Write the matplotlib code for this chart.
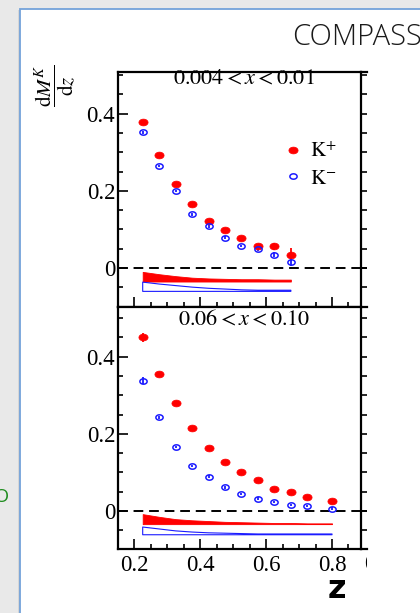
import numpy as np
import matplotlib
matplotlib.use("Agg")
import matplotlib.pyplot as plt
from matplotlib.path import Path
from matplotlib.patches import Rectangle
from matplotlib.lines import Line2D
from matplotlib.ticker import MultipleLocator, FuncFormatter
from matplotlib.transforms import Bbox

plt.rcParams['font.family'] = ['Liberation Serif', 'DejaVu Serif']
plt.rcParams['mathtext.fontset'] = 'stix'

# ---- multiplicities, 0.004 < x < 0.01 ----
z_lo = [0.225, 0.275, 0.325, 0.375, 0.425, 0.475, 0.525, 0.575, 0.625, 0.675]
kp_lo = [0.379, 0.293, 0.217, 0.165, 0.123, 0.098, 0.077, 0.056, 0.056, 0.035]
kp_lo_err = [0.004, 0.003, 0.003, 0.003, 0.003, 0.003, 0.003, 0.004, 0.009, 0.017]
km_lo = [0.352, 0.264, 0.200, 0.139, 0.108, 0.079, 0.057, 0.049, 0.035, 0.016]
km_lo_err = [0.004, 0.003, 0.003, 0.003, 0.003, 0.003, 0.003, 0.004, 0.007, 0.011]
sys_kp_lo = [0.025, 0.019, 0.014, 0.010, 0.008, 0.007, 0.006, 0.006, 0.005, 0.005]
sys_km_lo = [0.024, 0.019, 0.015, 0.011, 0.008, 0.006, 0.004, 0.003, 0.003, 0.003]

# ---- multiplicities, 0.06 < x < 0.10 ----
z_hi = [0.225, 0.275, 0.325, 0.375, 0.425, 0.475, 0.525, 0.575, 0.625, 0.675, 0.725, 0.80]
kp_hi = [0.450, 0.355, 0.281, 0.216, 0.163, 0.128, 0.100, 0.080, 0.058, 0.048, 0.035, 0.025]
kp_hi_err = [0.011, 0.004, 0.003, 0.003, 0.003, 0.003, 0.003, 0.003, 0.003, 0.003, 0.003, 0.003]
km_hi = [0.338, 0.243, 0.166, 0.116, 0.089, 0.061, 0.044, 0.032, 0.023, 0.016, 0.012, 0.006]
km_hi_err = [0.010, 0.004, 0.003, 0.003, 0.003, 0.003, 0.003, 0.003, 0.003, 0.003, 0.003, 0.003]
sys_kp_hi = [0.026, 0.019, 0.013, 0.010, 0.008, 0.006, 0.005, 0.004, 0.003, 0.003, 0.002, 0.002]
sys_km_hi = [0.020, 0.015, 0.010, 0.007, 0.005, 0.004, 0.003, 0.002, 0.002, 0.002, 0.002, 0.002]

bin_labels = [r'$0.004<x<0.01$', r'$0.06<x<0.10$']
series_labels = [r'$\mathrm{K}^{+}$', r'$\mathrm{K}^{-}$']
x_ticks = [0.2, 0.4, 0.6, 0.8]

RED = '#ff0000'
BLUE = '#1a1aff'

W, H = 420, 613
fig = plt.figure(figsize=(W / 100, H / 100), dpi=100)
fig.patch.set_facecolor('#e9e9e9')


def fx(px):
    return px / W


def fy(py):
    return 1 - py / H


# slide card behind the plot
fig.patches.append(Rectangle((fx(18), 0), 0.004, fy(10), transform=fig.transFigure,
                             facecolor='#d6d6d6', edgecolor='none', zorder=-11))
fig.patches.append(Rectangle((fx(20), -0.01), 1.0, fy(9) + 0.01, transform=fig.transFigure,
                             facecolor='white', edgecolor='#74a3da', lw=1.3, zorder=-10))

# horizontally stretched circle marker
t = np.linspace(0, 2 * np.pi, 60)
ellipse = Path(np.column_stack([1.35 * np.cos(t), np.sin(t)]), closed=True)

ax_lo = fig.add_axes([fx(118), fy(307), fx(361) - fx(118), fy(72) - fy(307)])
ax_hi = fig.add_axes([fx(118), fy(549), fx(361) - fx(118), fy(307) - fy(549)])

panels = [
    (ax_lo, z_lo, kp_lo, kp_lo_err, km_lo, km_lo_err, sys_kp_lo, sys_km_lo, (-0.101, 0.508), -0.035, -0.0605),
    (ax_hi, z_hi, kp_hi, kp_hi_err, km_hi, km_hi_err, sys_kp_hi, sys_km_hi, (-0.099, 0.529), -0.0345, -0.062),
]

for i, (ax, z, kp, kpe, km, kme, skp, skm, ylim, base_p, base_m) in enumerate(panels):
    z = np.asarray(z)
    ax.set_xlim(0.15, 0.888)
    ax.set_ylim(*ylim)

    # systematic bands
    ax.fill_between(z, base_p, base_p + np.asarray(skp), facecolor=RED, edgecolor=RED, lw=0.6, zorder=2)
    ax.fill_between(z, base_m, base_m + np.asarray(skm), facecolor='none', edgecolor=BLUE, lw=0.8, zorder=2)

    ax.axhline(0, color='black', lw=1.4, ls=(0, (5, 3)), zorder=1)
    ax.plot([1.0, 1.025], [0, 0], color='black', lw=1.4, ls=(0, (5, 3)),
            transform=ax.get_yaxis_transform(), clip_on=False)

    ax.errorbar(z, kp, yerr=kpe, fmt='none', ecolor=RED, elinewidth=1.3, capsize=0, zorder=3)
    ax.errorbar(z, km, yerr=kme, fmt='none', ecolor=BLUE, elinewidth=1.3, capsize=0, zorder=3)
    ax.plot(z, kp, ls='none', marker=ellipse, ms=6.6, mfc=RED, mec=RED, mew=0.5, zorder=4)
    ax.plot(z, km, ls='none', marker=ellipse, ms=5.2, mfc='none', mec=BLUE, mew=1.1, zorder=4)

    for s in ax.spines.values():
        s.set_linewidth(1.6)

    ax.xaxis.set_major_locator(MultipleLocator(0.2))
    ax.xaxis.set_minor_locator(MultipleLocator(0.05))
    ax.yaxis.set_major_locator(MultipleLocator(0.2))
    ax.yaxis.set_minor_locator(MultipleLocator(0.05))
    ax.yaxis.set_major_formatter(FuncFormatter(lambda v, _: '0' if abs(v) < 1e-9 else f'{v:.1f}'))
    ax.tick_params(which='both', direction='in', top=False, right=False, width=1.2)
    ax.tick_params(which='major', length=7, labelsize=16.5)
    ax.tick_params(which='minor', length=3.5)
    ax.tick_params(axis='y', pad=2)
    ax.tick_params(axis='x', pad=4)

    # ticks of the adjoining panel on the shared right edge
    axr = ax.twinx()
    axr.set_ylim(*ylim)
    axr.yaxis.set_major_locator(MultipleLocator(0.05))
    axr.tick_params(axis='y', which='both', direction='out', length=4.5, width=1.2,
                    left=False, right=True, labelright=False)
    axr.tick_params(axis='x', which='both', top=False, bottom=False)
    for s in axr.spines.values():
        s.set_visible(False)

    ax.text(0.52, 0.968 if i == 0 else 0.946, bin_labels[i], transform=ax.transAxes,
            ha='center', va='center', fontsize=16)

# continuation of the frame into the neighbouring panel
ax_lo.plot([1.0, 1.025], [1, 1], color='black', lw=1.6, transform=ax_lo.transAxes, clip_on=False)
ax_lo.plot([1.0, 1.025], [0, 0], color='black', lw=1.6, transform=ax_lo.transAxes, clip_on=False)
ax_hi.plot([1.0, 1.025], [0, 0], color='black', lw=1.6, transform=ax_hi.transAxes, clip_on=False)

ax_lo.tick_params(labelbottom=False)
ax_hi.set_xticks(x_ticks)
ax_hi.set_xticklabels([f'{v:.1f}' for v in x_ticks])

handles = [
    Line2D([], [], ls='none', marker=ellipse, ms=6.6, mfc=RED, mec=RED, mew=0.5),
    Line2D([], [], ls='none', marker=ellipse, ms=5.2, mfc='none', mec=BLUE, mew=1.1),
]
ax_lo.legend(handles, series_labels, loc='center left', bbox_to_anchor=(0.683, 0.602),
             frameon=False, fontsize=15, handlelength=0.9, handletextpad=0.35,
             labelspacing=0.35, borderpad=0, borderaxespad=0)

# neighbouring panel's first tick label, cut at the frame edge
nb = fig.text(fx(378), fy(565), '0.2', ha='center', va='center', fontsize=16.5)
nb.set_clip_box(Bbox([[0, 0], [367, H]]))
nb.set_clip_on(True)

fig.text(fx(56), fy(86), r'$\dfrac{\mathrm{d}M^{K}}{\mathrm{d}z}$', rotation=90,
         ha='center', va='center', fontsize=15)
fig.text(fx(337), fy(590), 'z', ha='center', va='center', fontsize=23,
         family='DejaVu Sans', weight='heavy')
fig.text(fx(292), fy(45), 'COMPASS', ha='left', va='baseline', fontsize=21,
         family='Open Sans', weight='light', color='#1a1a1a')
fig.text(fx(1), fy(497), 'O', ha='center', va='center', fontsize=14,
         family='Open Sans', color='#1e8c1e')

fig.savefig('out.png', dpi=100, facecolor=fig.get_facecolor())
